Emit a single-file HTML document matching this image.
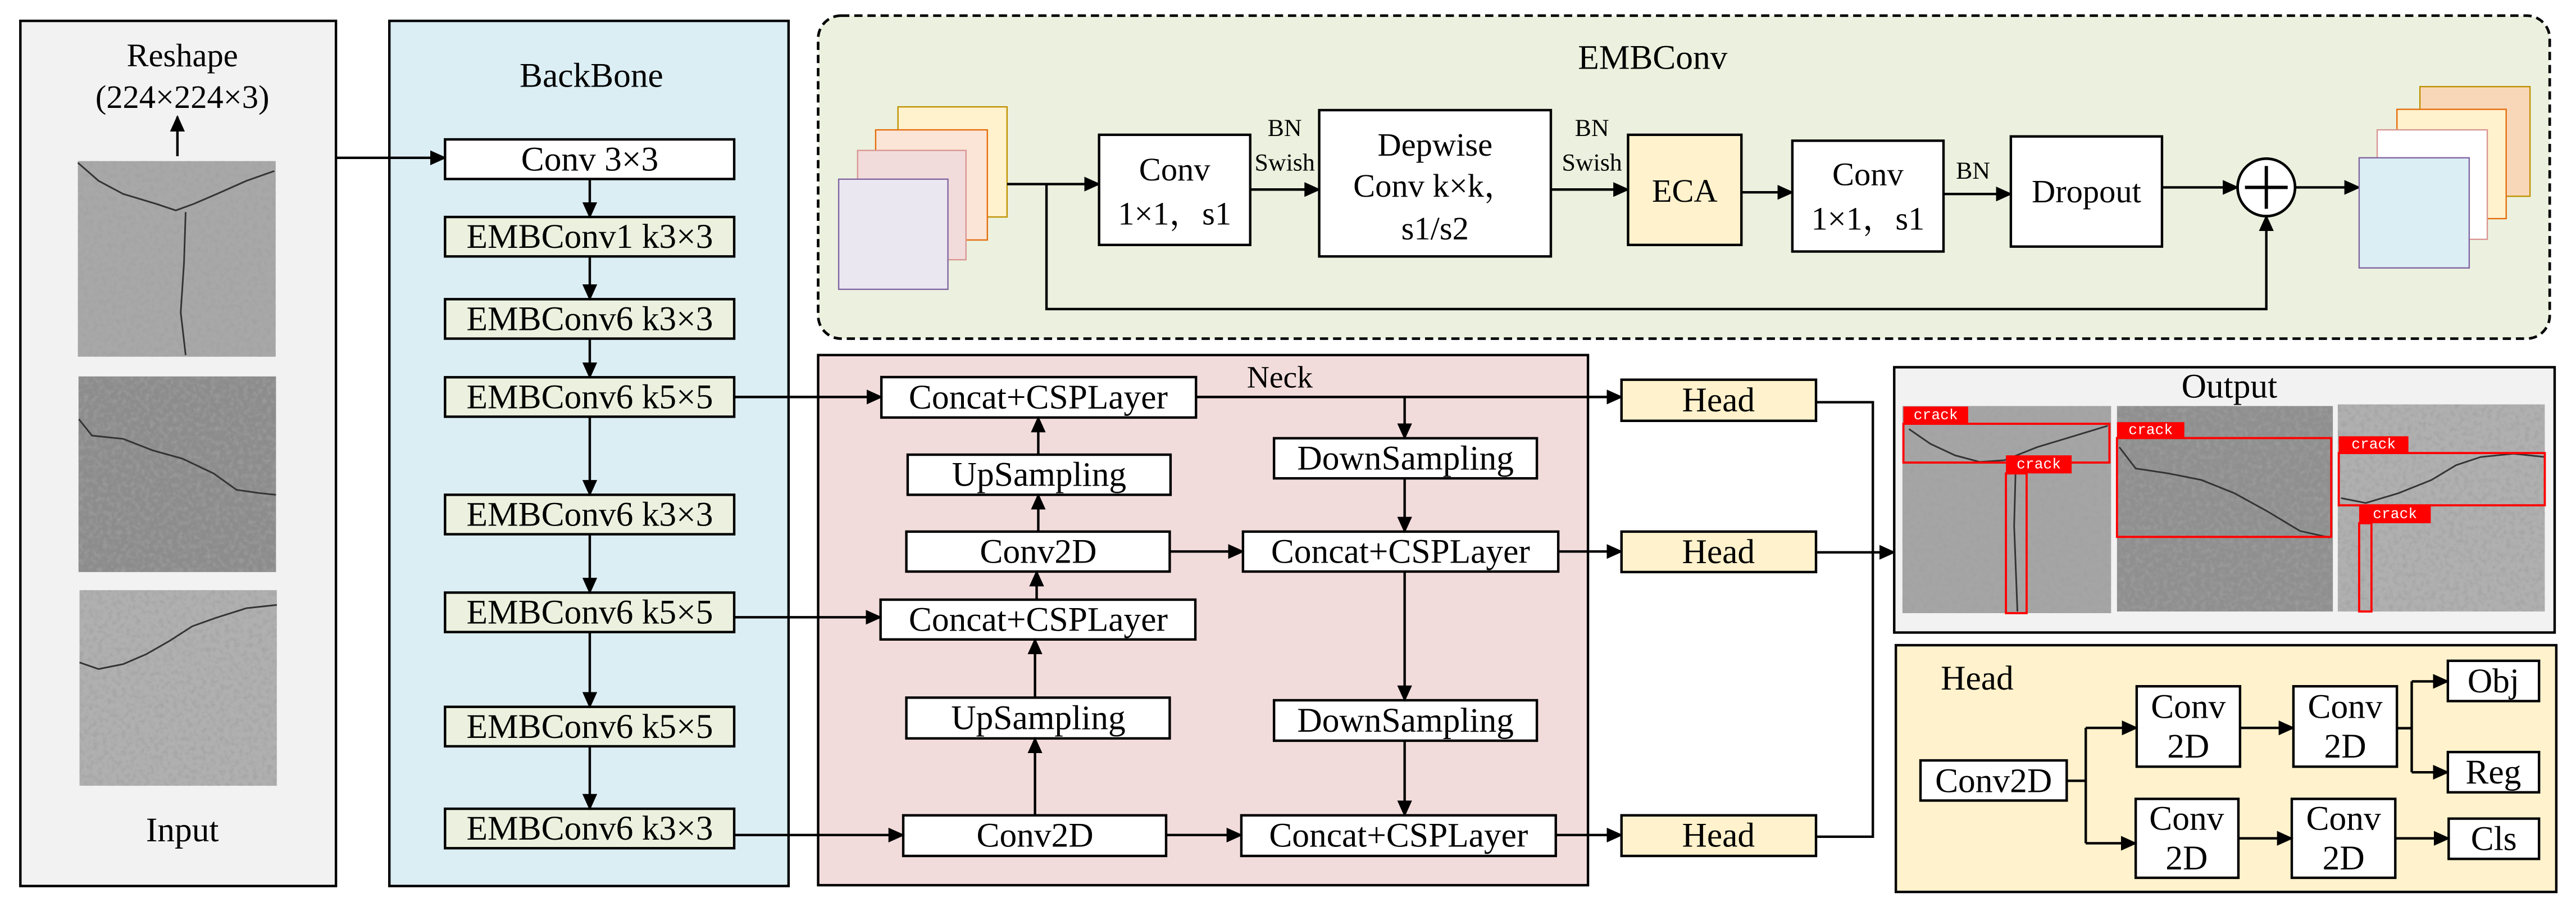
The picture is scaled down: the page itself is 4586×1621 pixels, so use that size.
<!DOCTYPE html>
<html><head><meta charset="utf-8"><style>html,body{margin:0;padding:0;background:#fff}svg{display:block}</style></head>
<body>
<svg width="4586" height="1621" viewBox="0 0 1568 554.2" preserveAspectRatio="none" xmlns="http://www.w3.org/2000/svg" font-family="'Liberation Serif', serif">
<defs>
<marker id="a" markerUnits="userSpaceOnUse" markerWidth="10" markerHeight="9" refX="9" refY="4.5" orient="auto"><path d="M0,0 L10,4.5 L0,9 Z" fill="#000"/></marker>
<filter id="tex" x="0" y="0" width="100%" height="100%"><feTurbulence type="fractalNoise" baseFrequency="0.35" numOctaves="3" seed="3"/><feColorMatrix type="matrix" values="0 0 0 0 0.35 0 0 0 0 0.35 0 0 0 0 0.35 0 0 0 -1.6 0.95"/><feComposite in2="SourceGraphic" operator="in"/></filter>
</defs>
<style>
.bx{stroke:#000;stroke-width:1.5}
.t{font-family:"Liberation Serif","Noto Serif CJK SC",serif;font-size:21px;text-anchor:middle;dominant-baseline:central}
.s20{font-size:20px}
.s15{font-size:15px}
.ln{stroke:#000;stroke-width:1.5;fill:none}
.ar{stroke:#000;stroke-width:1.5;fill:none;marker-end:url(#a)}
.ck{stroke:#333;stroke-width:1;fill:none}
</style>

<!-- Input panel -->
<rect x="12.4" y="12.7" width="192.1" height="526.3" fill="#f2f2f2" class="bx"/>
<text x="111" y="33.6" class="t s20">Reshape</text>
<text x="111" y="59" class="t s20">(224×224×3)</text>
<line x1="108" y1="95" x2="108" y2="71" class="ar"/>
<g>
<rect x="47.4" y="98" width="120.4" height="119" fill="#a8a8a8"/><rect x="47.4" y="98" width="120.4" height="119" fill="#a8a8a8" filter="url(#tex)"/>
<polyline class="ck" points="47.4,99 60,110 75,118 95,124 107,128 118,124 132,118 150,110 167,104"/>
<polyline class="ck" stroke-width="0.6" points="113,129 112,160 110,190 113,216"/>
<rect x="47.8" y="229" width="120.2" height="119" fill="#8c8c8c"/><rect x="47.8" y="229" width="120.2" height="119" fill="#8c8c8c" filter="url(#tex)"/>
<polyline class="ck" points="48,255 56,265 75,267 93,274 111,279 130,288 144,298 158,300 168,301"/>
<rect x="48.4" y="359" width="120.1" height="119" fill="#b0b0b0"/><rect x="48.4" y="359" width="120.1" height="119" fill="#b0b0b0" filter="url(#tex)"/>
<polyline class="ck" points="48.4,403 60,407 75,404 89,398 103,390 117,381 131,376 150,370 168.5,368"/>
</g>
<text x="111" y="505" class="t">Input</text>

<!-- Backbone -->
<rect x="237" y="12.7" width="243" height="526.3" fill="#dbeef4" class="bx"/>
<text x="360" y="46" class="t">BackBone</text>
<line x1="204.5" y1="96" x2="270.9" y2="96" class="ar"/>
<rect x="270.9" y="84.8" width="176" height="24.1" fill="#fff" class="bx"/><text x="359" y="97" class="t">Conv 3×3</text>
<g fill="#ebf1de">
<rect x="270.9" y="132" width="176" height="24" class="bx"/>
<rect x="270.9" y="182" width="176" height="24" class="bx"/>
<rect x="270.9" y="229.5" width="176" height="24" class="bx"/>
<rect x="270.9" y="301" width="176" height="24" class="bx"/>
<rect x="270.9" y="360.5" width="176" height="24" class="bx"/>
<rect x="270.9" y="430" width="176" height="24" class="bx"/>
<rect x="270.9" y="492" width="176" height="24" class="bx"/>
</g>
<text x="359" y="144" class="t">EMBConv1 k3×3</text>
<text x="359" y="194" class="t">EMBConv6 k3×3</text>
<text x="359" y="241.5" class="t">EMBConv6 k5×5</text>
<text x="359" y="313" class="t">EMBConv6 k3×3</text>
<text x="359" y="372.5" class="t">EMBConv6 k5×5</text>
<text x="359" y="442" class="t">EMBConv6 k5×5</text>
<text x="359" y="504" class="t">EMBConv6 k3×3</text>
<line x1="359" y1="109" x2="359" y2="132" class="ar"/>
<line x1="359" y1="156" x2="359" y2="182" class="ar"/>
<line x1="359" y1="206" x2="359" y2="229.5" class="ar"/>
<line x1="359" y1="253.5" x2="359" y2="301" class="ar"/>
<line x1="359" y1="325" x2="359" y2="360.5" class="ar"/>
<line x1="359" y1="384.5" x2="359" y2="430" class="ar"/>
<line x1="359" y1="454" x2="359" y2="492" class="ar"/>

<!-- EMBConv panel -->
<rect x="498" y="9.5" width="1054" height="196.5" rx="14" fill="#ebf1de" stroke="#000" stroke-width="1.6" stroke-dasharray="5,3"/>
<text x="1006" y="35" class="t">EMBConv</text>
<rect x="546.6" y="65" width="66.4" height="67" fill="#fff2cc" stroke="#bf9000" stroke-width="0.8"/>
<rect x="533" y="79" width="68" height="67" fill="#fbe5d6" stroke="#e46c0a" stroke-width="0.8"/>
<rect x="522" y="91.5" width="66" height="66.5" fill="#f2dcdb" stroke="#d99694" stroke-width="0.8"/>
<rect x="510.5" y="109" width="66.5" height="67" fill="#ebe7f0" stroke="#8064a2" stroke-width="0.8"/>
<line x1="613" y1="112" x2="669" y2="112" class="ar"/>
<rect x="669" y="82" width="92" height="67" fill="#fff" class="bx"/>
<text x="715" y="103" class="t s20">Conv</text>
<text x="715" y="130" class="t s20">1×1，s1</text>
<text x="782" y="78" class="t s15">BN</text>
<text x="782" y="99" class="t s15">Swish</text>
<line x1="761" y1="115.3" x2="803" y2="115.3" class="ar"/>
<rect x="803" y="67" width="141" height="89" fill="#fff" class="bx"/>
<text x="873.5" y="88" class="t s20">Depwise</text>
<text x="873.5" y="113" class="t s20">Conv k×k，</text>
<text x="873.5" y="139" class="t s20">s1/s2</text>
<text x="969" y="78" class="t s15">BN</text>
<text x="969" y="99" class="t s15">Swish</text>
<line x1="944" y1="115.3" x2="991" y2="115.3" class="ar"/>
<rect x="991" y="82" width="69" height="67" fill="#fff2cc" class="bx"/>
<text x="1025.5" y="116" class="t s20">ECA</text>
<line x1="1060" y1="117" x2="1091" y2="117" class="ar"/>
<rect x="1091" y="85.6" width="92" height="67.4" fill="#fff" class="bx"/>
<text x="1137" y="106" class="t s20">Conv</text>
<text x="1137" y="133" class="t s20">1×1，s1</text>
<text x="1201" y="104" class="t s15">BN</text>
<line x1="1183" y1="118" x2="1224" y2="118" class="ar"/>
<rect x="1224" y="83" width="92" height="67" fill="#fff" class="bx"/>
<text x="1270" y="116.5" class="t s20">Dropout</text>
<line x1="1316" y1="114" x2="1362" y2="114" class="ar"/>
<circle cx="1379.5" cy="114" r="17.5" fill="#fff" stroke="#000" stroke-width="1.6"/>
<line x1="1379.5" y1="101" x2="1379.5" y2="127" stroke="#000" stroke-width="2"/>
<line x1="1366.5" y1="114" x2="1392.5" y2="114" stroke="#000" stroke-width="2"/>
<line x1="1397" y1="114" x2="1436" y2="114" class="ar"/>
<polyline points="637,112 637,188 1379.5,188 1379.5,131.5" class="ar"/>
<rect x="1473" y="52.7" width="67" height="66.7" fill="#f8d7b8" stroke="#bf9000" stroke-width="0.8"/>
<rect x="1459" y="66.5" width="66.5" height="66.5" fill="#fff2cc" stroke="#e46c0a" stroke-width="0.8"/>
<rect x="1447" y="79" width="67" height="66.6" fill="#fff" stroke="#d99694" stroke-width="0.8"/>
<rect x="1436" y="96" width="67" height="67" fill="#dbeef4" stroke="#8064a2" stroke-width="0.8"/>

<!-- Neck -->
<rect x="498" y="216" width="468.6" height="322.5" fill="#f2dcdb" class="bx"/>
<text x="779" y="229.6" class="t" style="font-size:19px">Neck</text>
<g fill="#fff">
<rect x="536.5" y="229.4" width="191.5" height="24.6" class="bx"/>
<rect x="552.5" y="276.6" width="160" height="24.4" class="bx"/>
<rect x="551.7" y="323.4" width="160.3" height="24.3" class="bx"/>
<rect x="536" y="364.8" width="191.6" height="24.2" class="bx"/>
<rect x="551.7" y="424.4" width="160.3" height="24.8" class="bx"/>
<rect x="549.8" y="496" width="160" height="24.7" class="bx"/>
<rect x="775.5" y="266.6" width="160" height="24.4" class="bx"/>
<rect x="756.6" y="323.4" width="191.9" height="24.3" class="bx"/>
<rect x="775.5" y="426" width="160" height="24.6" class="bx"/>
<rect x="755.6" y="496" width="191.4" height="24.7" class="bx"/>
</g>
<text x="632" y="241.7" class="t">Concat+CSPLayer</text>
<text x="632.5" y="288.8" class="t">UpSampling</text>
<text x="632" y="335.5" class="t">Conv2D</text>
<text x="632" y="377" class="t">Concat+CSPLayer</text>
<text x="632" y="436.8" class="t">UpSampling</text>
<text x="630" y="508.3" class="t">Conv2D</text>
<text x="855.5" y="278.8" class="t">DownSampling</text>
<text x="852.5" y="335.5" class="t">Concat+CSPLayer</text>
<text x="855.5" y="438.3" class="t">DownSampling</text>
<text x="851.3" y="508.3" class="t">Concat+CSPLayer</text>
<line x1="446.9" y1="241.5" x2="536.5" y2="241.5" class="ar"/>
<line x1="446.9" y1="375.5" x2="536" y2="375.5" class="ar"/>
<line x1="446.9" y1="508" x2="549.8" y2="508" class="ar"/>
<line x1="630" y1="496" x2="630" y2="449.2" class="ar"/>
<line x1="630" y1="424.4" x2="630" y2="389" class="ar"/>
<line x1="631" y1="364.8" x2="631" y2="347.7" class="ar"/>
<line x1="632" y1="323.4" x2="632" y2="301" class="ar"/>
<line x1="632" y1="276.6" x2="632" y2="254" class="ar"/>
<line x1="728" y1="241.5" x2="987" y2="241.5" class="ar"/>
<line x1="855" y1="241.5" x2="855" y2="266.6" class="ar"/>
<line x1="855" y1="291" x2="855" y2="323.4" class="ar"/>
<line x1="712" y1="335.5" x2="756.6" y2="335.5" class="ar"/>
<line x1="948.5" y1="335.5" x2="987" y2="335.5" class="ar"/>
<line x1="855" y1="347.7" x2="855" y2="426" class="ar"/>
<line x1="855" y1="450.6" x2="855" y2="496" class="ar"/>
<line x1="709.8" y1="508" x2="755.6" y2="508" class="ar"/>
<line x1="947" y1="508" x2="987" y2="508" class="ar"/>

<!-- Head boxes -->
<g fill="#fff2cc">
<rect x="987" y="231" width="118.4" height="25" class="bx"/>
<rect x="987" y="323.4" width="118.4" height="24.6" class="bx"/>
<rect x="987" y="496" width="118.4" height="24.7" class="bx"/>
</g>
<text x="1046" y="243.5" class="t">Head</text>
<text x="1046" y="335.7" class="t">Head</text>
<text x="1046" y="508.3" class="t">Head</text>
<polyline points="1105.4,244.7 1140,244.7 1140,509 1105.4,509" class="ln"/>
<line x1="1105.4" y1="336" x2="1153" y2="336" class="ar"/>

<!-- Output -->
<rect x="1153" y="223.4" width="402" height="161.4" fill="#f2f2f2" class="bx"/>
<text x="1357" y="235" class="t">Output</text>
<rect x="1158" y="247" width="127" height="126" fill="#a5a5a5"/><rect x="1158" y="247" width="127" height="126" fill="#a5a5a5" filter="url(#tex)"/>
<polyline class="ck" points="1162,261 1175,270 1190,277 1205,281 1220,280 1240,272 1260,266 1283,259"/>
<polyline class="ck" stroke-width="0.6" points="1227,282 1226,320 1228,372"/>
<rect x="1288.6" y="247" width="131.4" height="125" fill="#8f8f8f"/><rect x="1288.6" y="247" width="131.4" height="125" fill="#8f8f8f" filter="url(#tex)"/>
<polyline class="ck" points="1290,272 1300,285 1320,288 1340,292 1360,300 1380,311 1400,323 1418,327"/>
<rect x="1423" y="246" width="126" height="126" fill="#b0b0b0"/><rect x="1423" y="246" width="126" height="126" fill="#b0b0b0" filter="url(#tex)"/>
<polyline class="ck" points="1425,303 1440,306 1460,300 1480,292 1495,283 1510,278 1530,276 1549,278"/>
<g fill="none" stroke="#f00" stroke-width="1.3">
<rect x="1158.6" y="257.8" width="125.4" height="23.6"/>
<rect x="1221" y="288" width="12.6" height="85"/>
<rect x="1288.6" y="266.5" width="130.4" height="60.1"/>
<rect x="1423.6" y="275.6" width="125.4" height="31.8"/>
<rect x="1436" y="318.3" width="7.5" height="53.7"/>
</g>
<g fill="#f00">
<rect x="1158.6" y="247.3" width="39.4" height="10.5"/>
<rect x="1221" y="277" width="40" height="11"/>
<rect x="1288.6" y="256.8" width="41" height="9.7"/>
<rect x="1423.6" y="265.4" width="42.4" height="10.2"/>
<rect x="1436" y="307.4" width="43.6" height="10.9"/>
</g>
<g fill="#fff" font-size="9" font-family="'Liberation Mono', monospace" text-anchor="middle" dominant-baseline="central">
<text x="1178.3" y="252.6">crack</text>
<text x="1241" y="282.5">crack</text>
<text x="1309.1" y="261.7">crack</text>
<text x="1444.8" y="270.5">crack</text>
<text x="1457.8" y="312.9">crack</text>
</g>

<!-- Head detail -->
<rect x="1154" y="392.5" width="402" height="150.1" fill="#fff2cc" class="bx"/>
<text x="1203.5" y="412.7" class="t">Head</text>
<g fill="#fff">
<rect x="1169" y="462.6" width="89" height="24.4" class="bx"/>
<rect x="1300.6" y="417.5" width="62.9" height="48.9" class="bx"/>
<rect x="1396" y="417.5" width="63" height="48.9" class="bx"/>
<rect x="1300" y="486" width="62.5" height="48" class="bx"/>
<rect x="1395" y="486" width="63" height="48" class="bx"/>
<rect x="1490" y="402" width="55.5" height="24.5" class="bx"/>
<rect x="1490" y="457.5" width="55.5" height="24.5" class="bx"/>
<rect x="1490.5" y="498" width="55" height="24.5" class="bx"/>
</g>
<text x="1213.5" y="475" class="t">Conv2D</text>
<text x="1332" y="430" class="t">Conv</text><text x="1332" y="454" class="t">2D</text>
<text x="1427.5" y="430" class="t">Conv</text><text x="1427.5" y="454" class="t">2D</text>
<text x="1331" y="498" class="t">Conv</text><text x="1331" y="522" class="t">2D</text>
<text x="1426.5" y="498" class="t">Conv</text><text x="1426.5" y="522" class="t">2D</text>
<text x="1517.7" y="414.3" class="t">Obj</text>
<text x="1517.7" y="469.8" class="t">Reg</text>
<text x="1518" y="510.3" class="t">Cls</text>
<line x1="1258" y1="475" x2="1269.6" y2="475" class="ln"/>
<polyline points="1269.6,442.8 1269.6,513" class="ln"/>
<line x1="1269.6" y1="442.8" x2="1300.6" y2="442.8" class="ar"/>
<line x1="1269.6" y1="513" x2="1300" y2="513" class="ar"/>
<line x1="1363.5" y1="442.8" x2="1396" y2="442.8" class="ar"/>
<line x1="1362.5" y1="510" x2="1395" y2="510" class="ar"/>
<line x1="1459" y1="443" x2="1468" y2="443" class="ln"/>
<line x1="1468" y1="414.5" x2="1468" y2="469.8" class="ln"/>
<line x1="1468" y1="414.5" x2="1490" y2="414.5" class="ar"/>
<line x1="1468" y1="469.8" x2="1490" y2="469.8" class="ar"/>
<line x1="1458" y1="510" x2="1490.5" y2="510" class="ar"/>
</svg>
</body></html>
